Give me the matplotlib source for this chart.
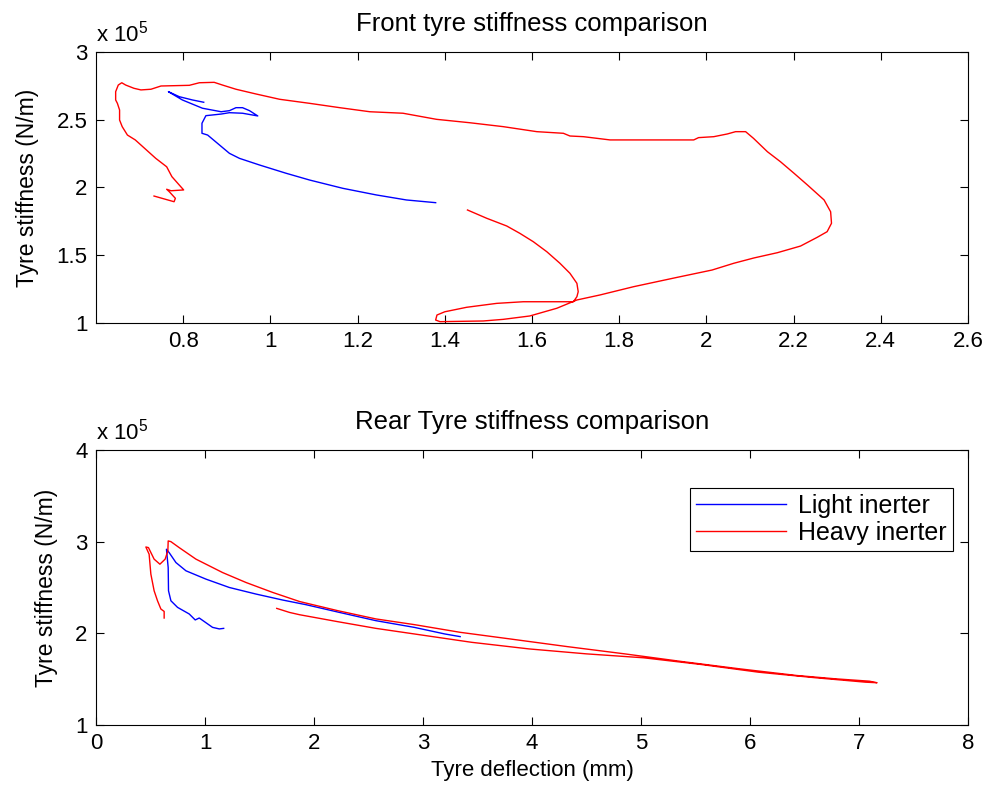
import matplotlib
matplotlib.use("Agg")
import matplotlib.pyplot as plt

plt.rcParams['font.family'] = ['Liberation Sans', 'DejaVu Sans']
plt.rcParams['mathtext.default'] = 'regular'

# Front tyre: deflection (mm) and stiffness (x 1e5 N/m)
front_light_defl = [0.847, 0.821, 0.791, 0.766, 0.798, 0.844, 0.887, 0.906, 0.921, 0.936,
                    0.952, 0.971, 0.936, 0.906, 0.887, 0.852, 0.843, 0.843, 0.856, 0.906,
                    0.929, 0.975, 1.036, 1.090, 1.166, 1.243, 1.312, 1.379]
front_light_stiff = [2.629, 2.646, 2.670, 2.707, 2.646, 2.585, 2.559, 2.567, 2.589, 2.589,
                     2.567, 2.528, 2.548, 2.552, 2.542, 2.530, 2.474, 2.400, 2.387, 2.252,
                     2.215, 2.166, 2.105, 2.055, 1.994, 1.945, 1.908, 1.888]

front_heavy_defl = [0.733, 0.779, 0.782, 0.768, 0.762, 0.772, 0.801, 0.791, 0.774, 0.762,
                    0.737, 0.690, 0.672, 0.660, 0.654, 0.654, 0.649, 0.645, 0.645, 0.651,
                    0.659, 0.668, 0.687, 0.703, 0.726, 0.749, 0.814, 0.837, 0.871, 0.890,
                    0.921, 0.967, 1.021, 1.090, 1.159, 1.228, 1.304, 1.381, 1.457, 1.534,
                    1.611, 1.672, 1.687, 1.718, 1.779, 1.971, 1.982, 2.017, 2.048, 2.067,
                    2.090, 2.108, 2.140, 2.170, 2.201, 2.232, 2.270, 2.285, 2.287, 2.277,
                    2.254, 2.216, 2.163, 2.109, 2.063, 2.013, 1.933, 1.833, 1.756, 1.703,
                    1.657, 1.595, 1.534, 1.488, 1.389, 1.379, 1.382, 1.400, 1.450, 1.519,
                    1.580, 1.695, 1.703, 1.706, 1.703, 1.687, 1.664, 1.634, 1.603, 1.572,
                    1.542, 1.496, 1.452]
front_heavy_stiff = [1.937, 1.895, 1.920, 1.969, 1.987, 1.976, 1.982, 2.018, 2.080, 2.153,
                     2.215, 2.351, 2.387, 2.449, 2.498, 2.572, 2.621, 2.646, 2.707, 2.756,
                     2.773, 2.756, 2.732, 2.720, 2.725, 2.749, 2.754, 2.773, 2.776, 2.756,
                     2.725, 2.690, 2.651, 2.621, 2.589, 2.559, 2.548, 2.503, 2.478, 2.449,
                     2.412, 2.400, 2.380, 2.375, 2.351, 2.351, 2.368, 2.375, 2.395, 2.412,
                     2.412, 2.363, 2.264, 2.190, 2.105, 2.018, 1.908, 1.821, 1.736, 1.674,
                     1.632, 1.568, 1.519, 1.480, 1.441, 1.391, 1.337, 1.268, 1.207, 1.170,
                     1.109, 1.052, 1.027, 1.015, 1.010, 1.022, 1.059, 1.083, 1.116, 1.145,
                     1.157, 1.157, 1.194, 1.231, 1.293, 1.367, 1.441, 1.526, 1.600, 1.662,
                     1.716, 1.773, 1.834]

# Rear tyre: deflection (mm) and stiffness (x 1e5 N/m)
rear_light_defl = [1.171, 1.131, 1.069, 0.947, 0.910, 0.855, 0.748, 0.687, 0.665, 0.662,
                   0.646, 0.671, 0.733, 0.825, 1.009, 1.223, 1.469, 1.713, 1.928, 2.234,
                   2.568, 2.920, 3.200, 3.341]
rear_light_stiff = [2.054, 2.048, 2.065, 2.167, 2.146, 2.211, 2.283, 2.355, 2.464, 2.717,
                    2.917, 2.880, 2.772, 2.682, 2.591, 2.500, 2.428, 2.363, 2.312, 2.228,
                    2.138, 2.065, 1.993, 1.964]

rear_heavy_defl = [0.625, 0.625, 0.595, 0.564, 0.533, 0.503, 0.487, 0.457, 0.481, 0.533,
                   0.586, 0.634, 0.659, 0.662, 0.687, 0.763, 0.917, 1.161, 1.377, 1.621,
                   1.867, 2.218, 2.568, 2.920, 3.341, 3.797, 4.324, 4.850, 5.377, 5.903,
                   6.429, 6.781, 7.096, 7.166, 7.061, 6.605, 6.078, 5.552, 5.025, 4.499,
                   3.972, 3.446, 3.025, 2.568, 2.218, 1.867, 1.775, 1.658]
rear_heavy_stiff = [2.167, 2.239, 2.265, 2.355, 2.464, 2.646, 2.863, 2.942, 2.935, 2.809,
                    2.754, 2.809, 2.899, 3.008, 3.000, 2.935, 2.809, 2.663, 2.554, 2.446,
                    2.347, 2.247, 2.157, 2.095, 2.011, 1.939, 1.855, 1.776, 1.692, 1.613,
                    1.540, 1.504, 1.478, 1.461, 1.467, 1.515, 1.576, 1.660, 1.733, 1.776,
                    1.830, 1.902, 1.975, 2.054, 2.127, 2.203, 2.228, 2.272]

front_xticks = [0.8, 1.0, 1.2, 1.4, 1.6, 1.8, 2.0, 2.2, 2.4, 2.6]
front_xticklabels = ['0.8', '1', '1.2', '1.4', '1.6', '1.8', '2', '2.2', '2.4', '2.6']
front_yticks = [1, 1.5, 2, 2.5, 3]
front_yticklabels = ['1', '1.5', '2', '2.5', '3']
rear_xticks = [0, 1, 2, 3, 4, 5, 6, 7, 8]
rear_yticks = [1, 2, 3, 4]

series_labels = ['Light inerter', 'Heavy inerter']
light_color = (0, 0, 1)
heavy_color = (1, 0, 0)
TICK_FS = 16
TITLE_FS = 18.5
YLABEL_FS = 16.5
XLABEL_FS = 16
LEGEND_FS = 18

fig = plt.figure(figsize=(9.86, 7.96), dpi=100)
ax1 = fig.add_axes([0.0974, 0.5942, 0.8843, 0.3405])
ax2 = fig.add_axes([0.0974, 0.0892, 0.8843, 0.3455])


def style(ax):
    for s in ax.spines.values():
        s.set_linewidth(0.8)
        s.set_color('black')
    ax.tick_params(direction='in', top=True, right=True, length=6, width=0.8,
                   labelsize=TICK_FS, pad=6, colors='black')


ax1.plot(front_light_defl, front_light_stiff, color=light_color, lw=1.0)
ax1.plot(front_heavy_defl, front_heavy_stiff, color=heavy_color, lw=1.0)
ax1.set_xlim(0.6, 2.6)
ax1.set_ylim(1, 3)
ax1.set_xticks(front_xticks)
ax1.set_xticklabels(front_xticklabels)
ax1.set_yticks(front_yticks)
ax1.set_yticklabels(front_yticklabels)
style(ax1)
ax1.set_title('Front tyre stiffness comparison', fontsize=TITLE_FS, pad=15)
ax1.set_ylabel('Tyre stiffness (N/m)', fontsize=YLABEL_FS, labelpad=12.5)
ax1.text(0.0, 1.02, r'x 10$^{5}$', transform=ax1.transAxes, fontsize=TICK_FS,
         ha='left', va='bottom')

ax2.plot(rear_light_defl, rear_light_stiff, color=light_color, lw=1.0, label=series_labels[0])
ax2.plot(rear_heavy_defl, rear_heavy_stiff, color=heavy_color, lw=1.0, label=series_labels[1])
ax2.set_xlim(0, 8)
ax2.set_ylim(1, 4)
ax2.set_xticks(rear_xticks)
ax2.set_yticks(rear_yticks)
style(ax2)
ax2.set_title('Rear Tyre stiffness comparison', fontsize=TITLE_FS, pad=15)
ax2.set_ylabel('Tyre stiffness (N/m)', fontsize=YLABEL_FS, labelpad=12.5)
ax2.set_xlabel('Tyre deflection (mm)', fontsize=XLABEL_FS, labelpad=4)
ax2.text(0.0, 1.02, r'x 10$^{5}$', transform=ax2.transAxes, fontsize=TICK_FS,
         ha='left', va='bottom')
leg = ax2.legend(loc='upper right', bbox_to_anchor=(0.983, 0.862), fontsize=LEGEND_FS,
                 frameon=True, fancybox=False, framealpha=1, edgecolor='black',
                 handlelength=3.6, handletextpad=0.5, borderaxespad=0,
                 borderpad=0.25, labelspacing=0.1)
leg.get_frame().set_linewidth(0.8)

fig.savefig('out.png', dpi=100)
